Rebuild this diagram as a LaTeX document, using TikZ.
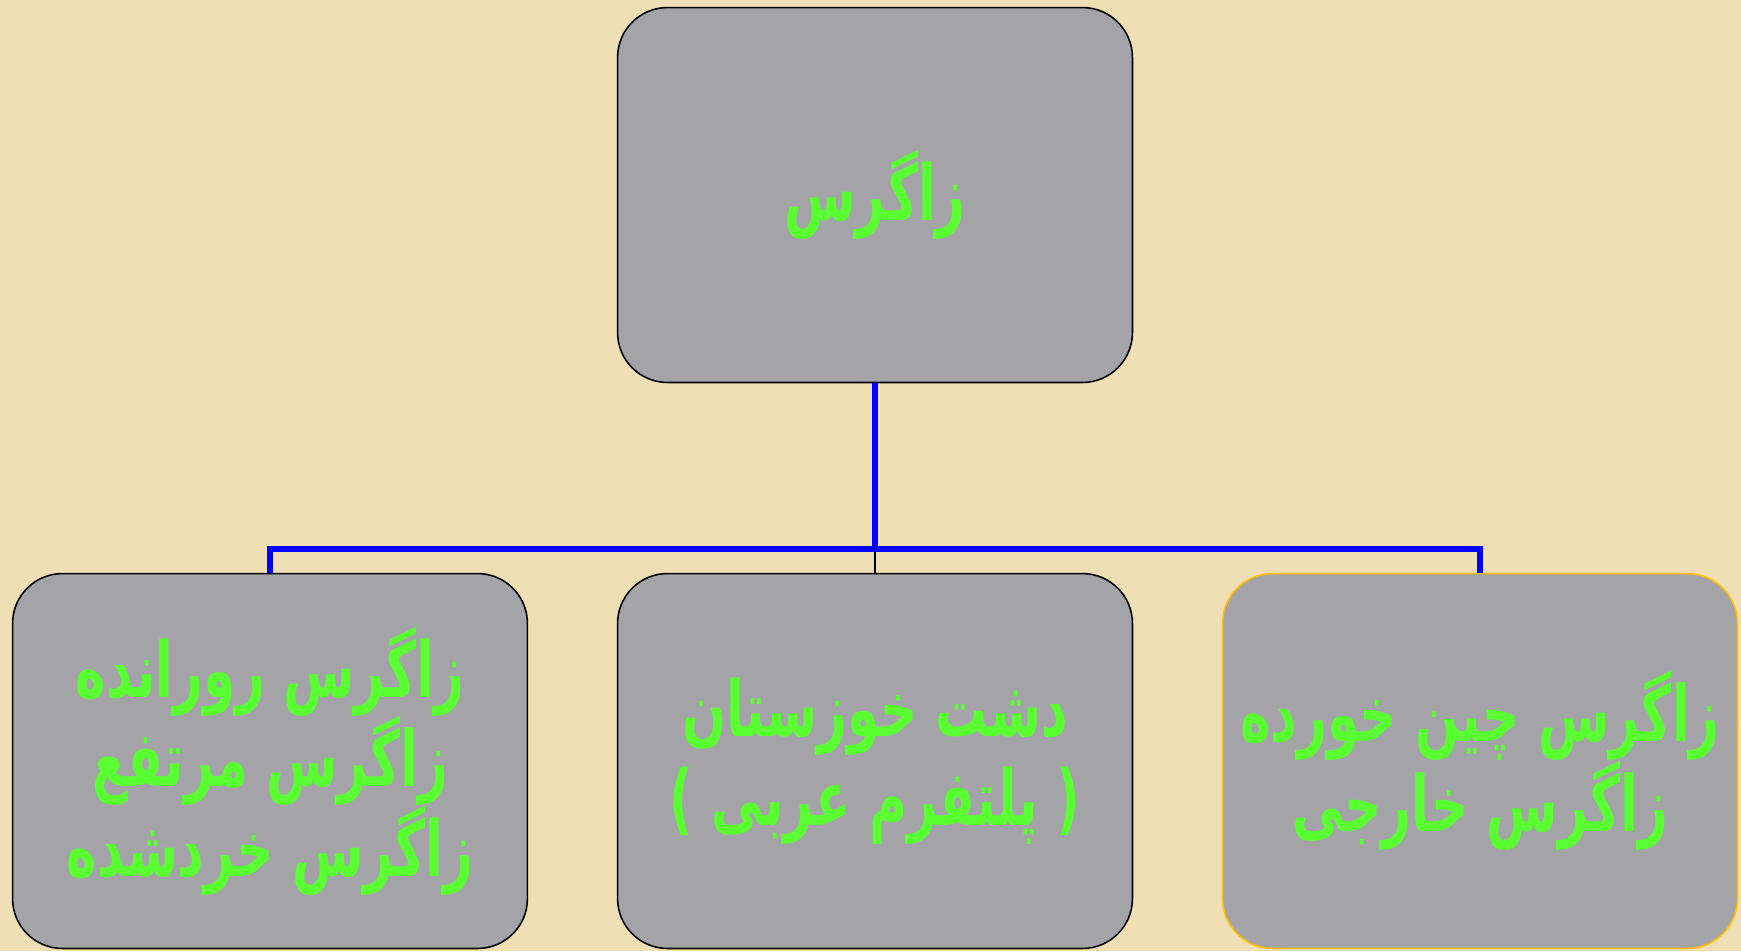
\documentclass[tikz,border=0pt]{standalone}
\usepackage{fontspec}
\TeXXeTstate=1
\newfontfamily\arabicfont[Script=Arabic,FakeStretch=0.67]{DejaVu Sans}
\definecolor{sand}{RGB}{240,222,180}
\definecolor{granite}{RGB}{163,163,168}
\definecolor{leafgreen}{RGB}{90,255,50}
\definecolor{gold}{RGB}{255,192,0}
\tikzset{
    box/.style={draw=black, line width=0.9pt, fill=granite, rounded corners=1cm,
        minimum width=10.3cm, minimum height=7.5cm, text=leafgreen, align=center,
        inner sep=2pt, font=\arabicfont\bfseries\fontsize{44}{51}\selectfont},
    trunk/.style={draw=blue, line width=3pt},
}
\begin{document}
\begin{tikzpicture}[x=0.02cm, y=-0.02cm]
    \fill[sand] (0,0) rectangle (1741,951);
    \useasboundingbox (0,0) rectangle (1741,951);

    \node[box] (root) at (875,195) {\beginR زاگرس\endR};
    \node[box] (left) at (270,761) {\beginR زاگرس رورانده\endR\\ \beginR زاگرس مرتفع\endR\\ \beginR زاگرس خردشده\endR};
    \node[box] (mid) at (875,761) {\beginR دشت خوزستان\endR\\ \beginR ( پلتفرم عربی )\endR};
    \node[box, draw=gold] (right) at (1480,761) {\beginR زاگرس چین خورده\endR\\ \beginR زاگرس خارجی\endR};

    \coordinate (fork) at (875,549);
    \draw[black, line width=1.6pt] (fork) -- (mid.north);
    \draw[trunk] (root.south) -- (fork);
    \draw[trunk, line width=3.5pt] (left.north) |- (fork) -| (right.north);
\end{tikzpicture}
\end{document}
